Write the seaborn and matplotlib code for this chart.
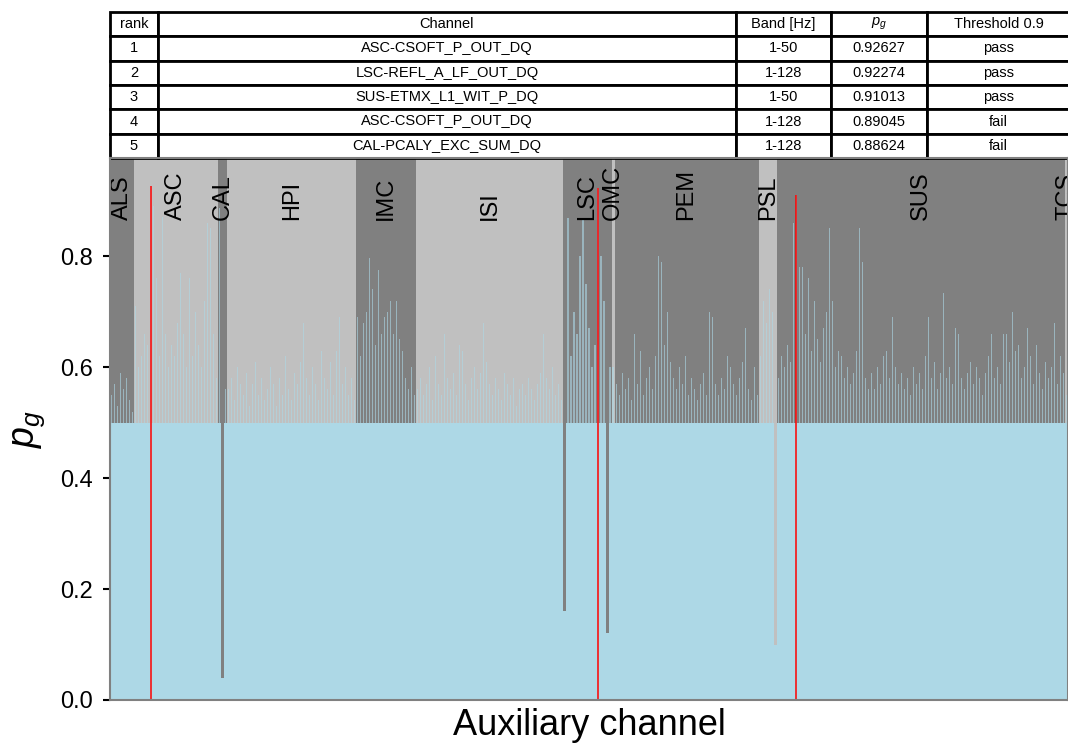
import numpy as np
import pandas as pd
import matplotlib
matplotlib.use("Agg")
import matplotlib.pyplot as plt
import seaborn as sns

# p_g per auxiliary channel, grouped by subsystem
groups = ['ALS', 'ASC', 'CAL', 'HPI', 'IMC', 'ISI', 'LSC', 'OMC', 'PEM', 'PSL', 'SUS', 'TCS']

als_pg = [0.55, 0.57, 0.53, 0.59, 0.56, 0.58, 0.54, 0.52]
asc_pg = [0.71, 0.60, 0.62, 0.66, 0.64, 0.92627, 0.89045, 0.76, 0.62, 0.87,
          0.66, 0.60, 0.64, 0.62, 0.68, 0.77, 0.66, 0.60, 0.76, 0.62,
          0.70, 0.64, 0.60, 0.72, 0.86, 0.85, 0.66, 0.58]
cal_pg = [0.88624, 0.04, 0.56]
hpi_pg = [0.56, 0.58, 0.54, 0.60, 0.57, 0.55, 0.59, 0.53, 0.57, 0.61,
          0.55, 0.58, 0.54, 0.56, 0.60, 0.57, 0.53, 0.58, 0.55, 0.62,
          0.56, 0.54, 0.59, 0.57, 0.61, 0.68, 0.58, 0.55, 0.60, 0.57,
          0.54, 0.63, 0.58, 0.56, 0.61, 0.55, 0.63, 0.69, 0.57, 0.60,
          0.55, 0.58, 0.54]
imc_pg = [0.69, 0.62, 0.68, 0.70, 0.796, 0.74, 0.64, 0.775, 0.66, 0.69,
          0.70, 0.72, 0.66, 0.72, 0.65, 0.63, 0.58, 0.56, 0.60, 0.55]
isi_pg = [0.56, 0.58, 0.55, 0.57, 0.60, 0.54, 0.62, 0.57, 0.55, 0.66,
          0.58, 0.56, 0.59, 0.55, 0.64, 0.63, 0.57, 0.54, 0.58, 0.60,
          0.56, 0.59, 0.68, 0.61, 0.57, 0.55, 0.58, 0.56, 0.54, 0.59,
          0.57, 0.55, 0.58, 0.53, 0.56, 0.57, 0.55, 0.58, 0.56, 0.54,
          0.57, 0.59, 0.66, 0.58, 0.56, 0.60, 0.55, 0.57, 0.54]
lsc_pg = [0.16, 0.868, 0.62, 0.70, 0.66, 0.80, 0.865, 0.75, 0.67, 0.60,
          0.64, 0.92274, 0.80, 0.72, 0.12, 0.60]
omc_pg = [0.60]
pem_pg = [0.57, 0.55, 0.59, 0.56, 0.58, 0.54, 0.66, 0.57, 0.63, 0.55,
          0.58, 0.60, 0.56, 0.62, 0.80, 0.79, 0.64, 0.70, 0.61, 0.58,
          0.56, 0.60, 0.57, 0.62, 0.55, 0.58, 0.56, 0.54, 0.57, 0.59,
          0.55, 0.70, 0.69, 0.57, 0.55, 0.58, 0.56, 0.62, 0.60, 0.57,
          0.55, 0.58, 0.61, 0.67, 0.56, 0.54, 0.60, 0.55]
psl_pg = [0.62, 0.72, 0.68, 0.74, 0.70, 0.10]
sus_pg = [0.58, 0.62, 0.60, 0.64, 0.61, 0.86, 0.91013, 0.78, 0.78, 0.66,
          0.76, 0.63, 0.72, 0.65, 0.61, 0.67, 0.70, 0.85, 0.72, 0.60,
          0.63, 0.62, 0.58, 0.60, 0.57, 0.59, 0.63, 0.85, 0.79, 0.58,
          0.56, 0.59, 0.56, 0.60, 0.57, 0.62, 0.63, 0.58, 0.69, 0.60,
          0.57, 0.59, 0.56, 0.58, 0.55, 0.60, 0.57, 0.59, 0.56, 0.62,
          0.69, 0.58, 0.61, 0.56, 0.59, 0.733, 0.58, 0.60, 0.57, 0.67,
          0.66, 0.58, 0.56, 0.59, 0.61, 0.57, 0.60, 0.58, 0.55, 0.59,
          0.62, 0.66, 0.58, 0.60, 0.57, 0.66, 0.66, 0.61, 0.70, 0.63,
          0.64, 0.58, 0.60, 0.67, 0.62, 0.57, 0.64, 0.59, 0.56, 0.61,
          0.58, 0.60, 0.68, 0.57, 0.62, 0.59]
tcs_pg = [0.55]

group_values = [als_pg, asc_pg, cal_pg, hpi_pg, imc_pg, isi_pg,
                lsc_pg, omc_pg, pem_pg, psl_pg, sus_pg, tcs_pg]

# top-5 table
table_rank = ['1', '2', '3', '4', '5']
table_channel = ['ASC-CSOFT_P_OUT_DQ', 'LSC-REFL_A_LF_OUT_DQ', 'SUS-ETMX_L1_WIT_P_DQ',
                 'ASC-CSOFT_P_OUT_DQ', 'CAL-PCALY_EXC_SUM_DQ']
table_band = ['1-50', '1-128', '1-50', '1-128', '1-128']
table_pg = [0.92627, 0.92274, 0.91013, 0.89045, 0.88624]
threshold = 0.9

sns.set_style("ticks")
plt.rcParams['font.family'] = ['Liberation Sans', 'DejaVu Sans']
plt.rcParams['mathtext.fontset'] = 'custom'
plt.rcParams['mathtext.it'] = 'Liberation Sans:italic'
plt.rcParams['mathtext.rm'] = 'Liberation Sans'
plt.rcParams['text.color'] = 'black'
plt.rcParams['axes.labelcolor'] = 'black'
plt.rcParams['ytick.color'] = 'black'
plt.rcParams['ytick.labelcolor'] = 'black'

# long format, one row per channel
rows = []
n = 0
for name, vals in zip(groups, group_values):
    for v in vals:
        rows.append({'group': name, 'idx': n, 'pg': v})
        n += 1
df = pd.DataFrame(rows)
df['floor'] = df['pg'].clip(upper=0.5)

fig = plt.figure(figsize=(10.68, 7.46), dpi=100)
ax = fig.add_axes([110 / 1068, 46 / 746, 958 / 1068, 542 / 746])

# subsystem bands
bounds = df.groupby('group', sort=False)['idx'].agg(['min', 'max'])
for k, (name, b) in enumerate(bounds.iterrows()):
    ax.axvspan(b['min'] - 0.5, b['max'] + 0.5, color='gray' if k % 2 == 0 else 'silver',
               lw=0, zorder=0)
    ax.text((b['min'] + b['max']) / 2, 0.865, name, rotation=90, ha='center', va='bottom',
            fontsize=17, color='black', zorder=4)

# dense fill up to 0.5, thin spikes above it
sns.barplot(data=df, x='idx', y='floor', native_scale=True, width=1.0, color='lightblue',
            saturation=1, errorbar=None, linewidth=0, ax=ax, zorder=2)
sns.barplot(data=df, x='idx', y='pg', native_scale=True, width=0.35, color='lightblue',
            saturation=1, alpha=0.6, errorbar=None, linewidth=0, ax=ax, zorder=2)

passed = df[df['pg'] >= threshold]
ax.vlines(passed['idx'], 0, passed['pg'], color='red', lw=1.1, zorder=5)

ax.set_xlim(-0.5, len(df) - 0.5)
ax.set_ylim(0, 0.977)
ax.set_xticks([])
ax.set_yticks([0.0, 0.2, 0.4, 0.6, 0.8])
ax.set_yticklabels(['0.0', '0.2', '0.4', '0.6', '0.8'])
ax.tick_params(axis='y', labelsize=17, length=5, width=1.5, pad=7, color='black',
               labelcolor='black')
ax.set_xlabel('Auxiliary channel', fontsize=26, labelpad=6, color='black')
ax.set_ylabel(r'$p_g$', fontsize=27, labelpad=10, color='black')
for s in ax.spines.values():
    s.set_color('gray')
    s.set_linewidth(1.5)
    s.set_zorder(6)

cell_text = [[r, c, b, f'{p:.5f}', 'pass' if p >= threshold else 'fail']
             for r, c, b, p in zip(table_rank, table_channel, table_band, table_pg)]
col_labels = ['rank', 'Channel', 'Band [Hz]', r'$p_g$', 'Threshold 0.9']
col_w = np.array([48, 578, 95, 96, 143]) / 960
tab = ax.table(cellText=cell_text, colLabels=col_labels, colWidths=col_w, cellLoc='center',
               bbox=[0, 1.0, 960 / 958, 146 / 542])
tab.auto_set_font_size(False)
tab.set_fontsize(10.5)
for cell in tab.get_celld().values():
    cell.set_linewidth(2)
    cell.get_text().set_color('black')

fig.savefig('out.png', dpi=100)
